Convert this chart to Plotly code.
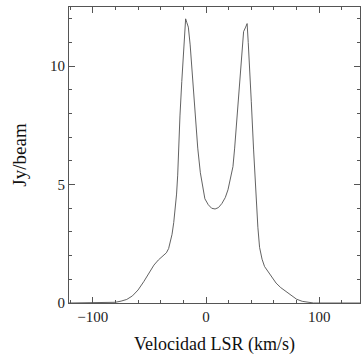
import plotly.graph_objects as go

velocity = [-121, -90, -80, -75, -70, -65, -60, -55, -50, -46, -42, -38, -35, -33, -31.5, -30,
            -28.5, -27, -26, -25, -24.4, -23, -21.4, -20, -19, -18, -17, -15.6, -14, -11.7,
            -9.5, -7.3, -5, -3, -1, 2, 5, 8, 11, 14, 17, 19.4, 21.5, 23.8, 25.3, 27.5, 29.7,
            31.5, 33.2, 35, 36.3, 37.3, 38.5, 40, 42, 43.3, 44.3, 45.8, 47.3, 49.5, 51.7, 55,
            58, 61.9, 66, 70, 75, 80, 85, 90, 95, 136]
flux = [0, 0, 0.03, 0.08, 0.15, 0.3, 0.55, 0.9, 1.3, 1.6, 1.82, 1.98, 2.12, 2.3, 2.55, 2.9,
        3.4, 4.0, 4.6, 5.4, 6.5, 7.9, 9.35, 10.6, 11.4, 12.0, 11.85, 11.65, 10.9, 9.35,
        7.9, 6.54, 5.5, 4.85, 4.4, 4.15, 4.0, 3.97, 4.03, 4.2, 4.45, 4.78, 5.2, 5.76, 6.54,
        7.9, 9.35, 10.6, 11.46, 11.65, 11.8, 11.0, 10.05, 8.5, 6.5, 5.3, 4.36, 3.2, 2.35,
        1.85, 1.54, 1.3, 1.1, 0.84, 0.65, 0.5, 0.32, 0.16, 0.07, 0.02, 0.0, 0]

x_ticks = [-100, 0, 100]
x_labels = ["\u2212100", "0", "100"]
y_ticks = [0, 5, 10]
y_labels = ["0", "5", "10"]

font_family = "'Liberation Serif', 'DejaVu Serif', serif"

fig = go.Figure()
fig.add_trace(go.Scatter(x=velocity, y=flux, mode="lines",
                         line=dict(color="#505050", width=0.9), showlegend=False))

axis_common = dict(
    showgrid=False, zeroline=False, showline=True, linecolor="#555", linewidth=1,
    mirror="allticks", ticks="inside", ticklen=6, tickcolor="#555", tickwidth=1,
    tickfont=dict(family=font_family, size=15, color="#222"),
)

fig.update_xaxes(range=[-121, 136], tickvals=x_ticks, ticktext=x_labels,
                 minor=dict(dtick=20, tick0=0, ticks="inside", ticklen=3, tickcolor="#555"),
                 title=dict(text="Velocidad LSR (km/s)",
                            font=dict(family=font_family, size=18, color="#111"), standoff=13),
                 **axis_common)
fig.update_yaxes(range=[0, 12.5], tickvals=y_ticks, ticktext=y_labels,
                 minor=dict(dtick=1, tick0=0, ticks="inside", ticklen=3, tickcolor="#555"),
                 title=dict(text="Jy/beam",
                            font=dict(family=font_family, size=19, color="#111"), standoff=18),
                 **axis_common)

fig.update_layout(
    width=364, height=357,
    margin=dict(l=69, r=4, t=7, b=54),
    plot_bgcolor="white", paper_bgcolor="white",
    font=dict(family=font_family),
)

fig.write_html("out.html")
